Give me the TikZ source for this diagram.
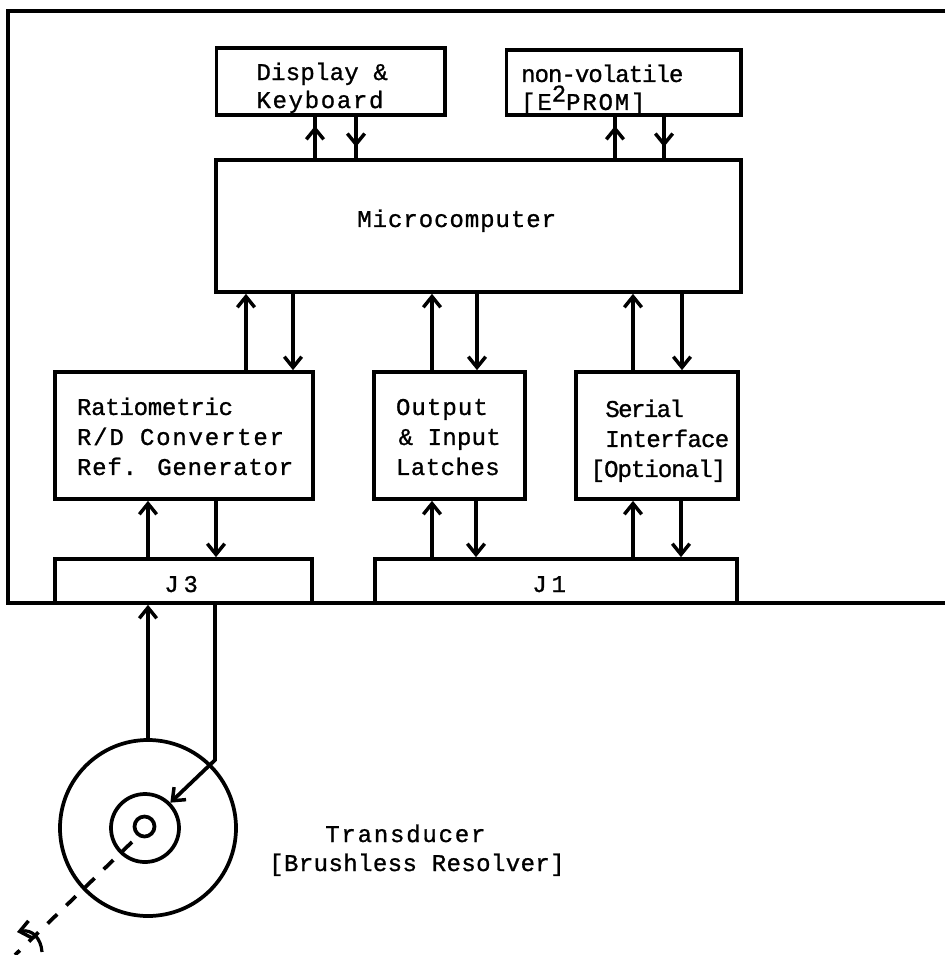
\documentclass[tikz,border=0pt]{standalone}
\usepackage{fontspec}
\setmainfont[FakeBold=1]{Liberation Mono}
\usetikzlibrary{arrows.meta,decorations.markings}
\tikzset{
  ln/.style={line width=2.8pt},
  barb/.style={-{Straight Barb[length=8pt,width=13pt,line width=2.6pt]}},
  blk/.style={draw,line width=2.8pt,inner sep=0pt,fill=white},
  ring/.style={draw,line width=2.8pt,circle,inner sep=0pt},
  midhead/.style={postaction={decorate},decoration={markings,mark=at position #1 with {\arrow{Straight Barb[length=8pt,width=13pt,line width=2.6pt]}}}}
}
\newcommand{\ls}[2]{{\addfontfeature{LetterSpace=#1}#2}}
% name, x1, y1, x2, y2, lead (pt), first baseline below box centre (pt), text
\newcommand{\blockat}[8]{%
  \pgfmathsetmacro{\bw}{(#4-#2)*0.75}\pgfmathsetmacro{\bh}{(#5-#3)*0.75}%
  \node[blk,minimum width=\bw pt,minimum height=\bh pt] (#1) at ({(#2+#4)/2},{(#3+#5)/2})
  {\makebox[\bw pt][l]{\hspace*{#6pt}\raisebox{-#7pt}[0pt][0pt]{\begin{tabular}[t]{@{}l@{}}#8\end{tabular}}}};}
\begin{document}
\begin{tikzpicture}[x=0.75pt,y=-0.75pt,font=\fontsize{18}{22.5}\selectfont]
\useasboundingbox[fill=white] (0,0) rectangle (945,955);
\draw[ln] (945,11) -- (8,11) -- (8,603) -- (945,603);
\blockat{disp}{216.5}{48}{445}{115}{30}{-1.1}{\ls{1}{Display \&}\\[-1.5pt]\ls{7}{Keyboard}}
\blockat{nv}{506.5}{50}{741}{115}{11}{-0.4}{\ls{-4}{non-volatile}\\[-1.5pt]\ls{7.5}{{[}E\raisebox{0.35em}[0pt][0pt]{2}PROM{]}}}
\blockat{micro}{216}{160}{741}{292}{106}{0.75}{\ls{4}{Microcomputer}}
\blockat{rdc}{55}{372}{313}{499}{16.5}{-15.4}{\ls{-1}{Ratiometric}\\\ls{7.5}{R/D Converter}\\\ls{3.3}{Ref. Generator}}
\blockat{lat}{374}{372}{525}{499}{16.5}{-15.4}{\ls{4.5}{Output}\\\hspace*{2pt}\ls{1}{\& Input}\\\ls{2}{Latches}}
\blockat{ser}{576}{372}{738}{499}{11}{-13.9}{\hspace*{11pt}\ls{-6.5}{Serial}\\\hspace*{11pt}\ls{-3}{Interface}\\\ls{-4}{{[}Optional{]}}}
\blockat{jt}{55}{559}{312}{603}{82}{8.25}{\ls{20}{J3}}
\blockat{jo}{375}{559}{737}{603}{118}{8.25}{\ls{20}{J1}}
\node[ring,minimum size=132pt] (cbig) at (148,828) {};
\node[ring,minimum size=51pt] (cmid) at (145,828) {};
\node[ring,minimum size=15pt] (csm) at (144.5,826.5) {};
% display and memory links (arrowheads mid-line)
\draw[ln,midhead=0.78] (315,0 |- micro.north) -- (315,0 |- disp.south);
\draw[ln,midhead=0.73] (356,0 |- disp.south) -- (356,0 |- micro.north);
\draw[ln,midhead=0.78] (615,0 |- micro.north) -- (615,0 |- nv.south);
\draw[ln,midhead=0.73] (664,0 |- nv.south) -- (664,0 |- micro.north);
% microcomputer links
\draw[ln,barb] (246,0 |- rdc.north) -- (246,0 |- micro.south);
\draw[ln,barb] (293,0 |- micro.south) -- (293,0 |- rdc.north);
\draw[ln,barb] (432,0 |- lat.north) -- (432,0 |- micro.south);
\draw[ln,barb] (477,0 |- micro.south) -- (477,0 |- lat.north);
\draw[ln,barb] (633,0 |- ser.north) -- (633,0 |- micro.south);
\draw[ln,barb] (682,0 |- micro.south) -- (682,0 |- ser.north);
% connector links
\draw[ln,barb] (148,0 |- jt.north) -- (148,0 |- rdc.south);
\draw[ln,barb] (216,0 |- rdc.south) -- (216,0 |- jt.north);
\draw[ln,barb] (432,0 |- jo.north) -- (432,0 |- lat.south);
\draw[ln,barb] (476,0 |- lat.south) -- (476,0 |- jo.north);
\draw[ln,barb] (633,0 |- jo.north) -- (633,0 |- ser.south);
\draw[ln,barb] (681,0 |- ser.south) -- (681,0 |- jo.north);
% transducer
\draw[ln,barb] (cbig.north) -- (cbig.north |- jt.south);
\coordinate (bend) at (215,760);
\draw[ln,barb] (bend |- jt.south) -- (bend) -- (cmid.45);
\coordinate (shaftstart) at (132,842);
\coordinate (shaftend) at (15,955);
\draw[ln,dash pattern=on 10pt off 9.5pt] (shaftstart) -- (shaftend);
\draw[line width=2.4pt,barb] (42,952) .. controls (41,938) and (32,929) .. (17,932);
\node[anchor=base west,inner sep=0pt] (td) at (325,842) {\ls{7.5}{Transducer}};
\node[anchor=base west,inner sep=0pt] (br) at (269,871) {\ls{1.7}{{[}Brushless Resolver{]}}};
\end{tikzpicture}
\end{document}
